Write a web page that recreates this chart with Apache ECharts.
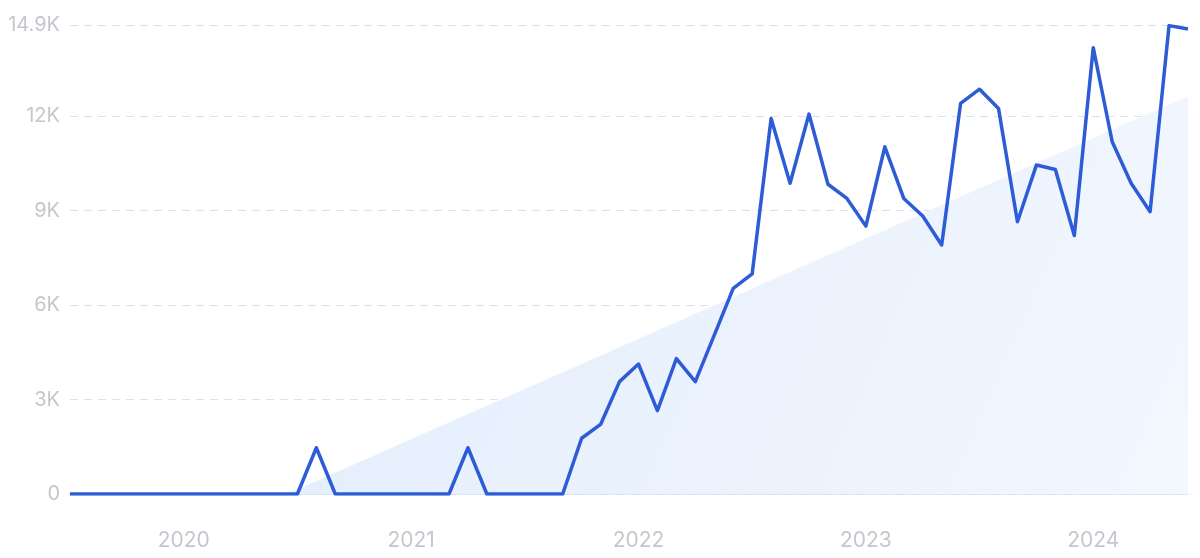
<!DOCTYPE html>
<html>
<head>
<meta charset="utf-8">
<script src="https://cdn.jsdelivr.net/npm/echarts@6/dist/echarts.min.js"></script>
<style>
  html, body { margin: 0; padding: 0; background: #ffffff; }
  #chart { width: 1200px; height: 558px; }
</style>
</head>
<body>
<div id="chart"></div>
<script>
// Monthly categories: Jul 2019 .. Jun 2024
const months = [
  '2019-07','2019-08','2019-09','2019-10','2019-11','2019-12',
  '2020-01','2020-02','2020-03','2020-04','2020-05','2020-06','2020-07','2020-08','2020-09','2020-10','2020-11','2020-12',
  '2021-01','2021-02','2021-03','2021-04','2021-05','2021-06','2021-07','2021-08','2021-09','2021-10','2021-11','2021-12',
  '2022-01','2022-02','2022-03','2022-04','2022-05','2022-06','2022-07','2022-08','2022-09','2022-10','2022-11','2022-12',
  '2023-01','2023-02','2023-03','2023-04','2023-05','2023-06','2023-07','2023-08','2023-09','2023-10','2023-11','2023-12',
  '2024-01','2024-02','2024-03','2024-04','2024-05','2024-06'
];

// Search volume values
const volume = [
  0, 0, 0, 0, 0, 0,
  0, 0, 0, 0, 0, 0, 0, 1470, 0, 0, 0, 0,
  0, 0, 0, 1470, 0, 0, 0, 0, 0, 1770, 2210, 3570, 4130, 2650,
  4300, 3570, 5050, 6530, 6990, 11930, 9870, 12070, 9840, 9390,
  8510, 11030, 9390, 8830, 7910, 12410, 12860, 12250, 8650, 10450,
  10310, 8210, 14180, 11190, 9870, 8970, 14880, 14770
];

// Trend line end points (category index, value)
const trendStart = [11, -120];
const trendEnd = [59, 12640];

// Y axis ticks
const yTicks = [0, 3000, 6000, 9000, 12000, 14900];

const trendData = months.map(() => null);
trendData[trendStart[0]] = trendStart[1];
trendData[trendEnd[0]] = trendEnd[1];

const chart = echarts.init(document.getElementById('chart'), null, { renderer: 'canvas' });

const labelColor = '#c4c7cd';
const fontFamily = 'Inter, "Noto Sans", sans-serif';

chart.setOption({
  animation: false,
  backgroundColor: '#ffffff',
  grid: { left: 70, right: 12, top: 25, bottom: 64, containLabel: false },
  xAxis: {
    type: 'category',
    data: months,
    boundaryGap: false,
    axisLine: { show: true, lineStyle: { color: '#d8e3f4', width: 1.5 } },
    axisTick: { show: false },
    splitLine: { show: false },
    axisLabel: {
      interval: (idx, val) => val.endsWith('-01'),
      formatter: (val) => val.slice(0, 4),
      color: labelColor,
      fontSize: 21,
      fontFamily: fontFamily,
      margin: 36
    }
  },
  yAxis: {
    type: 'value',
    min: 0,
    max: yTicks[yTicks.length - 1],
    interval: 3000,
    axisLine: { show: false },
    axisTick: { show: false },
    splitLine: { show: true, lineStyle: { color: '#dae2ef', type: [8, 6], width: 1 } },
    axisLabel: {
      color: labelColor,
      fontSize: 20,
      fontFamily: fontFamily,
      margin: 10,
      formatter: (v) => v === 0 ? '0' : (Math.round(v / 100) / 10) + 'K'
    }
  },
  series: [
    {
      name: 'trend',
      type: 'line',
      data: trendData,
      connectNulls: true,
      showSymbol: false,
      symbol: 'none',
      clip: true,
      silent: true,
      z: 1,
      lineStyle: { width: 0, opacity: 0 },
      areaStyle: {
        opacity: 1,
        color: new echarts.graphic.LinearGradient(0, 0, 1, 1, [
          { offset: 0, color: '#e2edfc' },
          { offset: 1, color: '#f3f7fe' }
        ])
      }
    },
    {
      name: 'volume',
      type: 'line',
      data: volume,
      showSymbol: false,
      symbol: 'none',
      z: 3,
      lineStyle: { color: '#2d5cd6', width: 3.5, join: 'round' }
    }
  ]
});
</script>
</body>
</html>
